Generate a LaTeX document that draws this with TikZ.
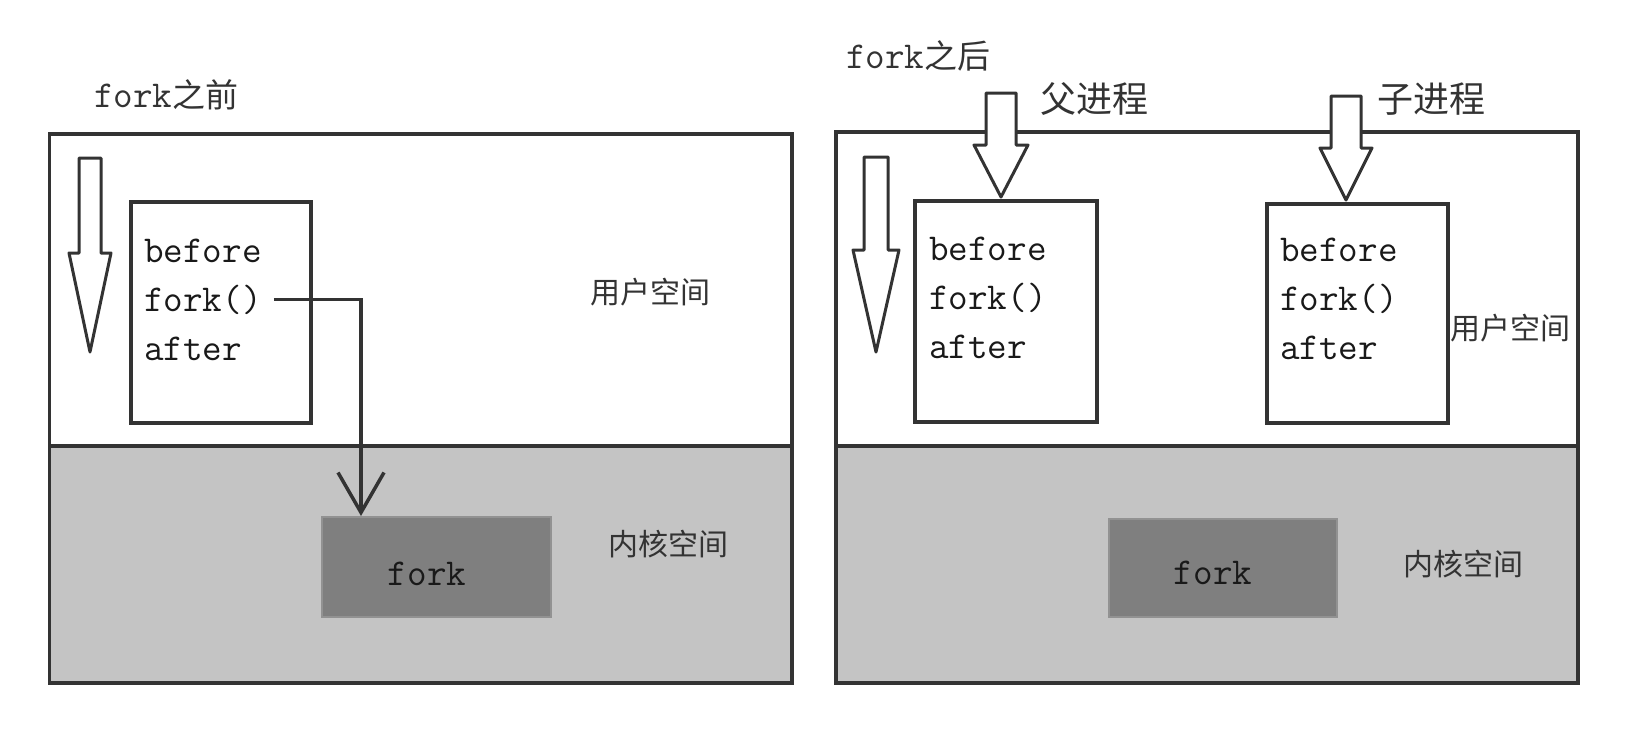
\documentclass[tikz,border=0pt]{standalone}
\usepackage{fontspec}
\newfontfamily\cjk{Noto Sans CJK SC}
\usetikzlibrary{arrows.meta}
\definecolor{ln}{HTML}{333333}
\definecolor{kern}{HTML}{C4C4C4}
\definecolor{fk}{HTML}{7F7F7F}
\tikzset{
  outer/.style={draw=ln, line width=3.5pt},
  codebox/.style={draw=ln, line width=4pt, fill=white, anchor=north west, inner sep=0pt},
  code/.style={font=\ttfamily\fontsize{38}{44}\selectfont, anchor=base west, inner sep=0pt, text=black!90},
  cn/.style={font=\cjk\fontsize{30}{36}\selectfont, inner sep=0pt, text=black!80},
  cnbig/.style={font=\cjk\fontsize{36}{40}\selectfont, inner sep=0pt, text=black!80},
  hollow/.style={draw=ln, line width=3pt, fill=white, line join=round},
  kbox/.style={fill=fk, draw=fk!85!white, line width=2pt, inner sep=0pt, anchor=north west},
  link/.style={draw=ln, line width=3.5pt, -{Straight Barb[length=40pt,width=46pt,line width=3.5pt]}}
}
\newcommand\harrow[6]{\draw[hollow] (#1-#5,#2) -- (#1-#5,#3) -- (#1-#6,#3) -- (#1,#4) -- (#1+#6,#3) -- (#1+#5,#3) -- (#1+#5,#2) -- cycle;}
\begin{document}
\begin{tikzpicture}[x=1pt,y=-1pt]
\useasboundingbox (0,0) rectangle (1652,732);
% ---------- left panel ----------
\node[anchor=base west, inner sep=0pt, text=black!80] (t1) at (94,107)
  {\ttfamily\fontsize{38}{40}\selectfont fork\cjk\fontsize{33}{40}\selectfont 之前};
\fill[kern] (49.5,446) rectangle (792,683);
\draw[outer] (49.5,134) rectangle (792,683);
\draw[outer] (49.5,446) -- (792,446);
\harrow{90}{158}{253}{352}{11}{21}
\node[codebox, minimum width=180pt, minimum height=221pt] (lbox) at (128.5,200) {};
\node[code] (lb) at (144,262) {before};
\node[code] (lf) at (144,311) {fork()};
\node[code] (la) at (144,360) {after};
\node[kbox, minimum width=229pt, minimum height=100pt] (lk) at (321,516) {};
\node[code, anchor=base] (lkt) at (427,585) {fork};
\coordinate (lkin) at (361,516);
\draw[link] ([xshift=12pt]lf.east) -| (lkin);
\node[cn] (lu) at (650,292) {用户空间};
\node[cn] (lkn) at (668,544) {内核空间};
% ---------- right panel ----------
\node[anchor=base west, inner sep=0pt, text=black!80] (t2) at (846,68)
  {\ttfamily\fontsize{38}{40}\selectfont fork\cjk\fontsize{33}{40}\selectfont 之后};
\fill[kern] (836,446) rectangle (1578,683);
\draw[outer] (836,132) rectangle (1578,683);
\draw[outer] (836,446) -- (1578,446);
\harrow{876}{157}{250}{352}{12}{23}
\node[codebox, minimum width=182pt, minimum height=221pt] (pbox) at (913,199) {};
\node[codebox, minimum width=181pt, minimum height=219pt] (cbox) at (1265,202) {};
\harrow{1001}{93}{145}{197}{15}{27}
\harrow{1346}{96}{148}{200}{15}{26}
\node[cnbig] (pp) at (1094,99) {父进程};
\node[cnbig] (cp) at (1431,99) {子进程};
\node[code] (pb) at (929,260) {before};
\node[code] (pf) at (929,309) {fork()};
\node[code] (pa) at (929,358) {after};
\node[code] (cb) at (1280,261) {before};
\node[code] (cf) at (1280,310) {fork()};
\node[code] (ca) at (1280,359) {after};
\node[kbox, minimum width=228pt, minimum height=98pt] (rk) at (1108,518) {};
\node[code, anchor=base] (rkt) at (1213,584) {fork};
\node[cn] (ru) at (1510,328) {用户空间};
\node[cn] (rkn) at (1463,564) {内核空间};
\end{tikzpicture}
\end{document}
